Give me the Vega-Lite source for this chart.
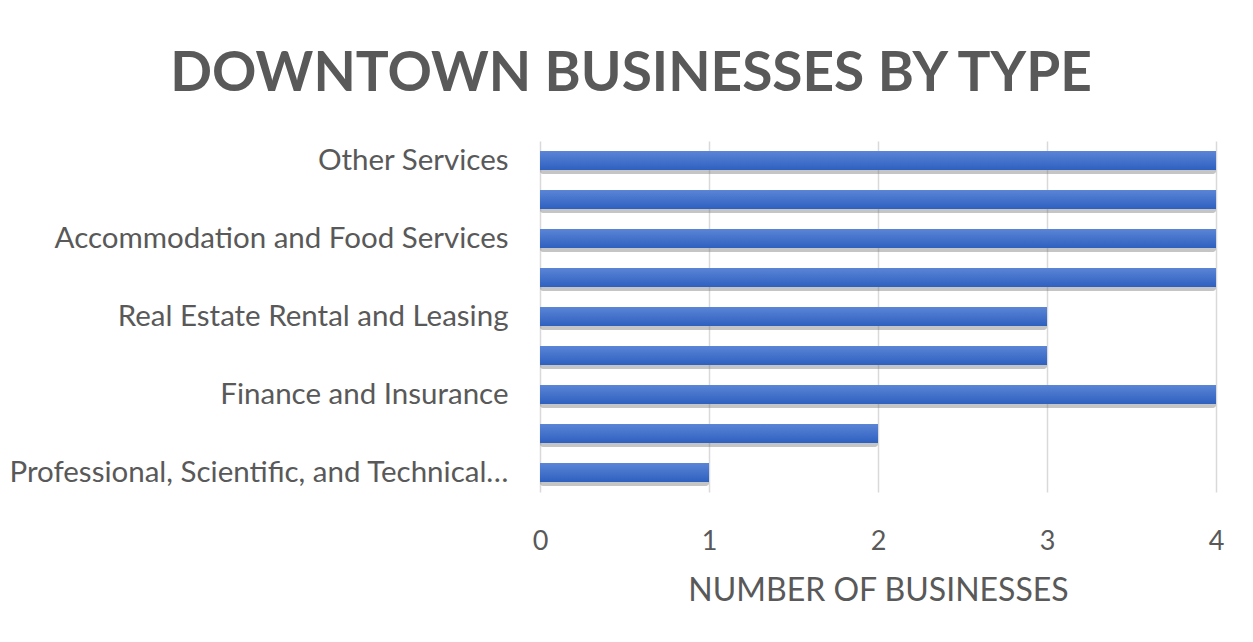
{
  "$schema": "https://vega.github.io/schema/vega-lite/v6.json",
  "width": 676,
  "height": 351,
  "autosize": "none",
  "padding": {"left": 540, "top": 141, "right": 37, "bottom": 150},
  "background": "white",
  "title": {
    "text": "DOWNTOWN BUSINESSES BY TYPE",
    "font": "Lato",
    "fontSize": 55,
    "fontWeight": "bold",
    "color": "#595959",
    "anchor": "middle",
    "frame": "group",
    "dx": -247,
    "baseline": "alphabetic",
    "offset": 50,
    "dy": 55
  },
  "data": {
    "values": [
      {"type": "Other Services", "count": 4},
      {"type": "Arts, Entertainment, and Recreation", "count": 4},
      {"type": "Accommodation and Food Services", "count": 4},
      {"type": "Retail Trade", "count": 4},
      {"type": "Real Estate Rental and Leasing", "count": 3},
      {"type": "Information", "count": 3},
      {"type": "Finance and Insurance", "count": 4},
      {"type": "Educational Services", "count": 2},
      {"type": "Professional, Scientific, and Technical Services", "count": 1}
    ]
  },
  "encoding": {
    "y": {
      "field": "type",
      "type": "nominal",
      "sort": null,
      "scale": {"paddingInner": 0.51, "paddingOuter": 0.255},
      "axis": {
        "title": null,
        "values": ["Other Services", "Accommodation and Food Services", "Real Estate Rental and Leasing", "Finance and Insurance", "Professional, Scientific, and Technical Services"],
        "domain": false,
        "ticks": false,
        "labelFont": "Lato",
        "labelFontSize": 29.5,
        "labelColor": "#595959",
        "labelPadding": 32,
        "labelLimit": 506
      }
    },
    "x": {
      "field": "count",
      "type": "quantitative",
      "scale": {"domain": [0, 4], "nice": false},
      "axis": {
        "title": "NUMBER OF BUSINESSES",
        "values": [0, 1, 2, 3, 4],
        "format": "d",
        "domain": false,
        "ticks": false,
        "grid": true,
        "gridColor": "#d9d9d9",
        "gridWidth": 1.5,
        "labelFlush": false,
        "labelFont": "Lato",
        "labelFontSize": 27,
        "labelColor": "#595959",
        "labelPadding": 36,
        "titleFont": "Lato",
        "titleFontSize": 32,
        "titleFontWeight": "normal",
        "titleColor": "#595959",
        "titlePadding": 21
      }
    }
  },
  "layer": [
    {
      "mark": {"type": "bar", "color": "#6f6f6f", "opacity": 0.4, "yOffset": 4, "x2Offset": 2, "cornerRadius": 3}
    },
    {
      "mark": {
        "type": "bar",
        "color": {
          "gradient": "linear",
          "x1": 0, "y1": 0, "x2": 0, "y2": 1,
          "stops": [
            {"offset": 0, "color": "#5b85d6"},
            {"offset": 1, "color": "#2e60c0"}
          ]
        }
      }
    }
  ],
  "config": {"view": {"stroke": null}}
}
